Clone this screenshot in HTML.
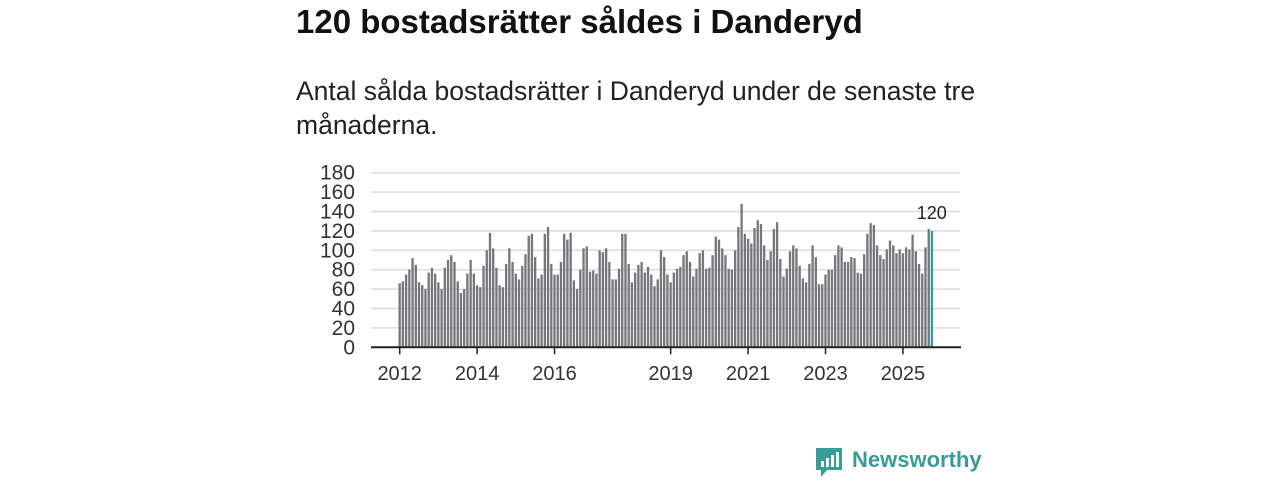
<!DOCTYPE html>
<html><head><meta charset="utf-8"><style>
body{margin:0;background:#fff;width:1280px;height:480px;overflow:hidden;font-family:"Liberation Sans","DejaVu Sans",sans-serif;}
.t{position:absolute;left:296px;top:3px;font-size:33px;font-weight:bold;color:#111;margin:0;}
.s{position:absolute;left:296px;top:74px;font-size:26.5px;line-height:34px;color:#222;width:760px;margin:0;}
svg{position:absolute;left:0;top:0;}
</style></head><body>
<h1 class="t">120 bostadsrätter såldes i Danderyd</h1>
<p class="s">Antal sålda bostadsrätter i Danderyd under de senaste tre<br>månaderna.</p>
<svg id="c" width="1280" height="480"></svg>
<script>
const values=[66,68,75,80,92,85,67,64,60,77,82,76,67,60,82,90,95,88,68,56,60,76,90,76,64,62,84,100,118,102,82,64,62,86,102,88,76,70,84,96,115,117,93,71,
75,117,124,86,75,75,88,117,111,118,69,60,80,102,104,78,79,76,100,98,102,88,70,70,81,117,117,86,67,77,85,88,77,83,75,63,70,100,93,75,67,77,81,83,95,99,
88,73,81,97,100,81,82,95,114,111,102,95,81,80,100,124,148,117,112,107,123,131,127,105,90,99,122,129,91,73,81,99,105,102,84,71,67,86,105,93,65,
65,75,80,80,95,105,103,88,88,93,92,77,76,96,117,128,126,105,95,91,101,110,105,97,101,97,103,101,116,99,86,76,103,122,120];
const yTicks=[0,20,40,60,80,100,120,140,160,180];
const xTickLabels=["2012","2014","2016","2019","2021","2023","2025"];
const xTickYears=[2012,2014,2016,2019,2021,2023,2025];
const NS="http://www.w3.org/2000/svg",svg=document.getElementById('c');
const y0=347.3,y1=172.7,yMax=180,x0=398.5,xEnd=934;
const n=values.length,step=(xEnd-x0)/n;
const ys=v=>y0-(v/yMax)*(y0-y1);
const xYear=yr=>x0+((yr-2012)*12)*step+1.2;
function mk(t,a){const e=document.createElementNS(NS,t);for(const k in a)e.setAttribute(k,a[k]);svg.appendChild(e);return e;}
yTicks.forEach(v=>{
 const g=mk('line',{x1:371,x2:960,y1:ys(v),y2:ys(v),stroke:'#dcdcdc','stroke-width':1.5});
 
 
 const t=mk('text',{x:355,y:ys(v)+7,'text-anchor':'end','font-size':21,fill:'#333'});
 t.textContent=v;
 
 
});
values.forEach((v,i)=>{
 const last=i===n-1;
 const r=mk('rect',{x:x0+i*step,y:ys(v),width:step-0.9,height:y0-ys(v),fill:last?'#2aa39c':'#77767b'});
 
 
});
const lv=mk('text',{x:x0+(n-1)*step+1,y:ys(values[n-1])-12,'text-anchor':'middle','font-size':18,fill:'#222'});
lv.textContent=values[n-1];


const ax=mk('line',{x1:371,x2:961,y1:y0,y2:y0,stroke:'#222','stroke-width':2});


xTickYears.forEach((yr,i)=>{
 const x=xYear(yr);
 const tk=mk('line',{x1:x,x2:x,y1:y0,y2:y0+7,stroke:'#222','stroke-width':1.5});
 
 
 const t=mk('text',{x:x,y:380,'text-anchor':'middle','font-size':20,fill:'#333'});
 t.textContent=xTickLabels[i];
 
 
});
</script>
<div style="position:absolute;left:815px;top:447px;height:32px;">
<svg width="28" height="32" style="position:absolute;left:0;top:0">
<path d="M1 1h26v22H12l-6 7v-7H1z" fill="#3a9c96"/>
<rect x="6" y="14" width="3" height="6" fill="#fff"/><rect x="11" y="11" width="3" height="9" fill="#fff"/><rect x="16" y="8" width="3" height="12" fill="#fff"/><rect x="21" y="5" width="3" height="15" fill="#fff"/>
</svg>
<span style="position:absolute;left:37px;top:0;font-size:22px;font-weight:bold;color:#3a9c96;white-space:nowrap;">Newsworthy</span>
</div>
</body></html>
